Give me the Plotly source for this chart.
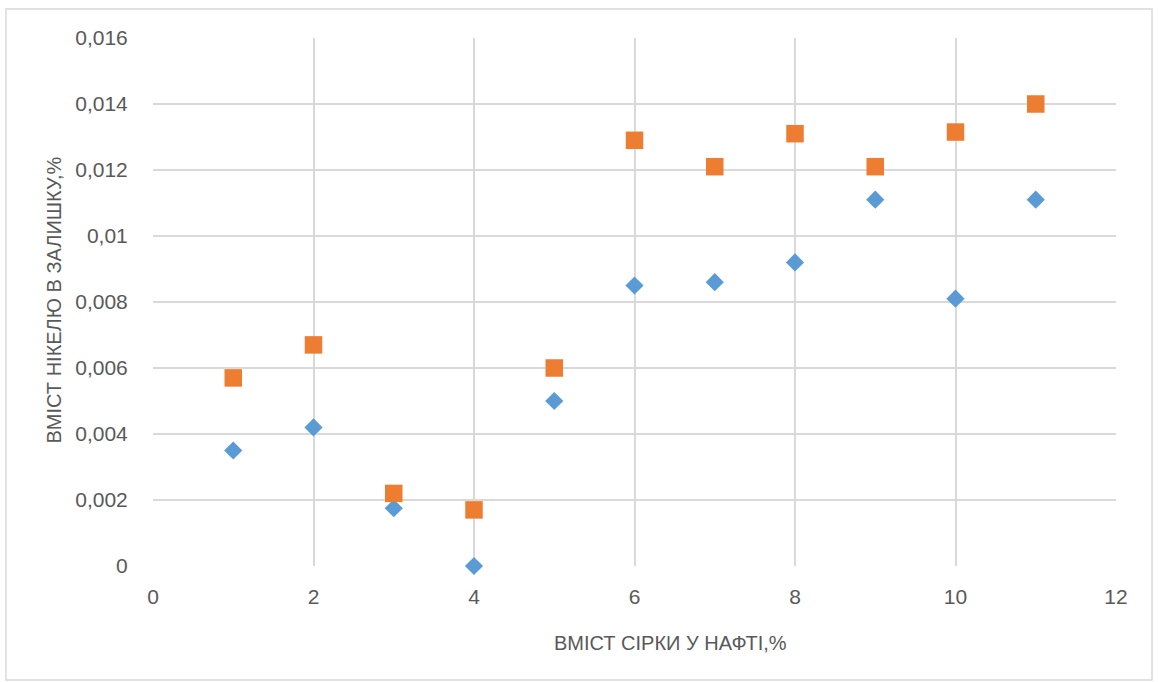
import plotly.graph_objects as go

sulfur = [1, 2, 3, 4, 5, 6, 7, 8, 9, 10, 11]
nickel_a = [0.0035, 0.0042, 0.00175, 0.0, 0.0050, 0.0085, 0.0086, 0.0092, 0.0111, 0.0081, 0.0111]
nickel_b = [0.0057, 0.0067, 0.0022, 0.0017, 0.0060, 0.0129, 0.0121, 0.0131, 0.0121, 0.01315, 0.0140]

x_ticks = [0, 2, 4, 6, 8, 10, 12]
x_labels = ["0", "2", "4", "6", "8", "10", "12"]
y_ticks = [0, 0.002, 0.004, 0.006, 0.008, 0.010, 0.012, 0.014, 0.016]
y_labels = ["0", "0,002", "0,004", "0,006", "0,008", "0,01", "0,012", "0,014", "0,016"]

x_title = "ВМІСТ СІРКИ У НАФТІ,%"
y_title = "ВМІСТ НІКЕЛЮ В ЗАЛИШКУ,%"

font_fam = "Liberation Sans, Arial, sans-serif"
text_col = "#595959"
grid_col = "#D9D9D9"

fig = go.Figure()
fig.add_trace(go.Scatter(
    x=sulfur, y=nickel_a, mode="markers",
    marker=dict(symbol="diamond", size=14, color="#5B9BD5", line=dict(width=0)),
    showlegend=False, cliponaxis=False))
fig.add_trace(go.Scatter(
    x=sulfur, y=nickel_b, mode="markers",
    marker=dict(symbol="square", size=17.5, color="#ED7D31", line=dict(width=0)),
    showlegend=False, cliponaxis=False))

fig.update_layout(
    width=1158, height=682,
    margin=dict(l=153, r=42, t=38, b=116),
    paper_bgcolor="white", plot_bgcolor="white",
    font=dict(family=font_fam, color=text_col, size=21),
    xaxis=dict(range=[0, 12], tickvals=x_ticks, ticktext=x_labels,
               showgrid=True, gridcolor=grid_col, gridwidth=1.5,
               zeroline=False, showline=False,
               ticks="outside", ticklen=12, tickcolor="rgba(0,0,0,0)",
               tickfont=dict(size=21, color=text_col)),
    yaxis=dict(range=[0, 0.016], tickvals=y_ticks, ticktext=y_labels,
               showgrid=True, gridcolor=grid_col, gridwidth=1.5,
               zeroline=False, showline=False,
               ticks="outside", ticklen=20, tickcolor="rgba(0,0,0,0)",
               tickfont=dict(size=21, color=text_col)),
    annotations=[
        dict(text=x_title, xref="paper", yref="paper", x=0.537, y=-0.1458,
             xanchor="center", yanchor="middle", showarrow=False,
             font=dict(size=20, color=text_col)),
        dict(text=y_title, xref="paper", yref="paper", x=-0.1023, y=0.5038,
             xanchor="center", yanchor="middle", textangle=-90, showarrow=False,
             font=dict(size=20, color=text_col)),
    ],
    shapes=[dict(type="rect", xref="paper", yref="paper",
                 x0=-0.1527, x1=1.0374, y0=-0.2159, y1=1.0549,
                 line=dict(color=grid_col, width=1.5), fillcolor="rgba(0,0,0,0)", layer="below")],
)

fig.write_html("out.html", config={"displayModeBar": False},
               post_script="document.body.style.margin='0px';document.body.style.overflow='hidden';")
